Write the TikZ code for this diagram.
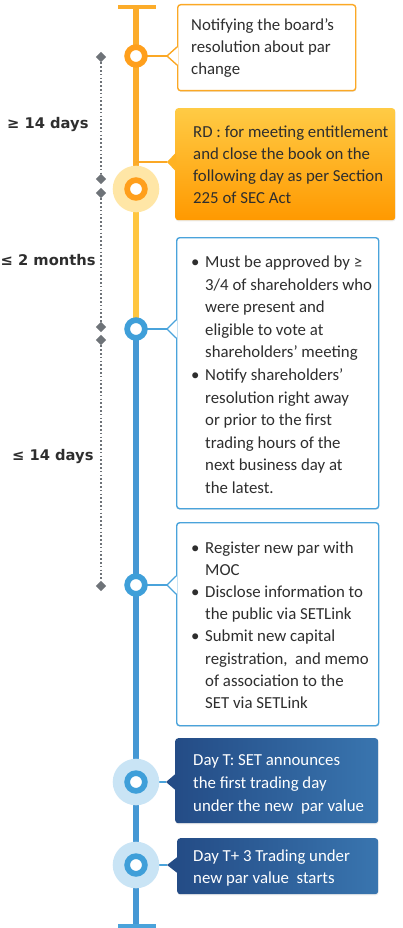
\documentclass[tikz,border=0pt]{standalone}
\usepackage{fontspec}
\setmainfont{Carlito}
\newfontfamily\labfont{DejaVu Sans}
\usetikzlibrary{shapes.geometric,shadows}
\definecolor{orgLine}{HTML}{FCAC2A}
\definecolor{yelLine}{HTML}{FFC640}
\definecolor{bluLine}{HTML}{4598D4}
\definecolor{orgRing}{HTML}{FF9F1C}
\definecolor{orgHalo}{HTML}{FFE6A6}
\definecolor{bluRing}{HTML}{3F9FD9}
\definecolor{bluHalo}{HTML}{C9E4F5}
\definecolor{orgBorder}{HTML}{FBA825}
\definecolor{bluBorder}{HTML}{4AA3DB}
\definecolor{rdTop}{HTML}{FFCB45}
\definecolor{rdBot}{HTML}{FF9900}
\definecolor{navL}{HTML}{244C86}
\definecolor{navR}{HTML}{3975AF}
\definecolor{dgray}{HTML}{6E7378}
\definecolor{txtc}{HTML}{2E2E2E}
\begin{document}
\begin{tikzpicture}[x=1pt,y=-1pt,
  seg/.style={line width=5.5pt},
  capline/.style={line width=3.5pt},
  conn/.style={line width=1.8pt},
  boxshadow/.style={drop shadow={opacity=0.15,shadow xshift=0.4pt,shadow yshift=-1.2pt}},
  obox/.style={draw=orgBorder,line width=1.4pt,fill=white,rounded corners=3pt,inner sep=0,anchor=north west,boxshadow},
  bbox/.style={draw=bluBorder,line width=1.4pt,fill=white,rounded corners=3pt,inner sep=0,anchor=north west,boxshadow},
  rdbox/.style={top color=rdTop,bottom color=rdBot,rounded corners=3pt,inner sep=0,anchor=north west,boxshadow},
  navbox/.style={left color=navL,right color=navR,rounded corners=3pt,inner sep=0,anchor=north west,boxshadow},
  ring/.style={circle,fill=white,line width=5.7pt,minimum size=17.7pt,inner sep=0},
  halo/.style={circle,minimum size=46.6pt,inner sep=0},
  btxt/.style={inner sep=0,align=left,anchor=base west,text=txtc},
  lab/.style={inner sep=0,anchor=base west,text=txtc,font=\labfont\bfseries\fontsize{14.7}{17}\selectfont},
  dia/.style={diamond,fill=dgray,minimum size=10.5pt,inner sep=0}
]
\useasboundingbox (0,0) rectangle (402,928);

% timeline
\coordinate (top) at (136,7);
\coordinate (topL) at (118,7);
\coordinate (topR) at (156,7);
\coordinate (bot) at (136,926);
\coordinate (botL) at (118,926);
\coordinate (botR) at (156,926);
\coordinate (rdc) at (136,162);
\draw[seg,orgLine] (top) -- (136,189);
\draw[seg,yelLine] (136,189) -- (136,329);
\draw[seg,bluLine] (136,329) -- (bot);
\draw[capline,orgLine] (topL) -- (topR);
\draw[capline,bluBorder] (botL) -- (botR);

% pointer tips
\coordinate (p1) at (167,56);
\coordinate (p2) at (167,162);
\coordinate (p3) at (167,329);
\coordinate (p4) at (167,585);
\coordinate (p5) at (166,782);
\coordinate (p6) at (167,865);

% circle centres
\coordinate (c1) at (136,56);
\coordinate (c2) at (136,189);
\coordinate (c3) at (136,329);
\coordinate (c4) at (136,585);
\coordinate (c5) at (136,782);
\coordinate (c6) at (136,865);

% connectors
\draw[conn,orgBorder] (c1) -- (p1);
\draw[conn,orgBorder] (rdc) -- (p2);
\draw[conn,bluBorder] (c3) -- (p3);
\draw[conn,bluBorder] (c4) -- (p4);
\draw[conn,bluBorder] (c5) -- (p5);
\draw[conn,bluBorder] (c6) -- (p6);

% boxes
\node[obox,minimum width=178pt,minimum height=86pt] (b1) at (177,4) {};
\node[rdbox,minimum width=220pt,minimum height=112pt] (b2) at (175,108) {};
\node[bbox,minimum width=202pt,minimum height=271pt] (b3) at (176,237) {};
\node[bbox,minimum width=202pt,minimum height=203pt] (b4) at (176,522) {};
\node[navbox,minimum width=203pt,minimum height=85pt] (b5) at (175,738) {};
\node[navbox,minimum width=201pt,minimum height=56pt] (b6) at (177,838) {};

% pointers
\fill[white] (178.2,47) -- (p1) -- (178.2,65) -- cycle;
\draw[orgBorder,line width=1.4pt,line join=round] (177,47) -- (p1) -- (177,65);
\fill[rdTop!50!rdBot] (176,152.5) -- (p2) -- (176,171.5) -- cycle;
\fill[white] (177.2,320) -- (p3) -- (177.2,338) -- cycle;
\draw[bluBorder,line width=1.4pt,line join=round] (176,320) -- (p3) -- (176,338);
\fill[white] (177.2,576) -- (p4) -- (177.2,594) -- cycle;
\draw[bluBorder,line width=1.4pt,line join=round] (176,576) -- (p4) -- (176,594);
\fill[navL] (176,773.5) -- (p5) -- (176,790.5) -- cycle;
\fill[navL] (178,856.5) -- (p6) -- (178,873.5) -- cycle;

% circles
\node[halo,fill=orgHalo] (h2) at (c2) {};
\node[halo,fill=bluHalo] (h5) at (c5) {};
\node[halo,fill=bluHalo] (h6) at (c6) {};
\node[ring,draw=orgRing] (r1) at (c1) {};
\node[ring,draw=orgRing] (r2) at (c2) {};
\node[ring,draw=bluRing] (r3) at (c3) {};
\node[ring,draw=bluRing] (r4) at (c4) {};
\node[ring,draw=bluRing] (r5) at (c5) {};
\node[ring,draw=bluRing] (r6) at (c6) {};

% dotted measure line
\node[dia] (d1) at (101,57) {};
\node[dia] (d2) at (101,179) {};
\node[dia] (d3) at (101,193) {};
\node[dia] (d4) at (101,327) {};
\node[dia] (d5) at (101,340) {};
\node[dia] (d6) at (101,586) {};
\draw[dgray,line width=1.5pt,dash pattern=on 1.6pt off 2.2pt] (d1.south) -- (d2.north);
\draw[dgray,line width=1.5pt,dash pattern=on 1.6pt off 2.2pt] (d3.south) -- (d4.north);
\draw[dgray,line width=1.5pt,dash pattern=on 1.6pt off 2.2pt] (d5.south) -- (d6.north);

% labels
\node[lab] (l1) at (7,129) {≥ 14 days};
\node[lab] (l2) at (0.5,265) {≤ 2 months};
\node[lab] (l3) at (12,460) {≤ 14 days};

% box texts (anchored at the baseline of the last line)
\node[btxt,font=\fontsize{16.8}{22}\selectfont] (t1) at (191,75)
  {Notifying the board’s\\resolution about par\\change};
\node[btxt,font=\fontsize{16.8}{22}\selectfont] (t2) at (193,203.3)
  {RD : for meeting entitlement\\and close the book on the\\following day as per Section\\225 of SEC Act};
\node[btxt,font=\fontsize{16.8}{22.56}\selectfont] (t3) at (191,493.3)
  {\makebox[14pt][l]{•}Must be approved by ≥\\
   \hspace*{14pt}3/4 of shareholders who\\
   \hspace*{14pt}were present and\\
   \hspace*{14pt}eligible to vote at\\
   \hspace*{14pt}shareholders’ meeting\\
   \makebox[14pt][l]{•}Notify shareholders’\\
   \hspace*{14pt}resolution right away\\
   \hspace*{14pt}or prior to the first\\
   \hspace*{14pt}trading hours of the\\
   \hspace*{14pt}next business day at\\
   \hspace*{14pt}the latest.};
\node[btxt,font=\fontsize{16.8}{22.14}\selectfont] (t4) at (191,708.3)
  {\makebox[14pt][l]{•}Register new par with\\
   \hspace*{14pt}MOC\\
   \makebox[14pt][l]{•}Disclose information to\\
   \hspace*{14pt}the public via SETLink\\
   \makebox[14pt][l]{•}Submit new capital\\
   \hspace*{14pt}registration,\ \ and memo\\
   \hspace*{14pt}of association to the\\
   \hspace*{14pt}SET via SETLink};
\node[btxt,text=white,font=\fontsize{16.8}{23}\selectfont] (t5) at (193,811.3)
  {Day T: SET announces\\the first trading day\\under the new\ \ par value};
\node[btxt,text=white,font=\fontsize{16.8}{22}\selectfont] (t6) at (193,883)
  {Day T+ 3 Trading under\\new par value\ \ starts};
\end{tikzpicture}
\end{document}
